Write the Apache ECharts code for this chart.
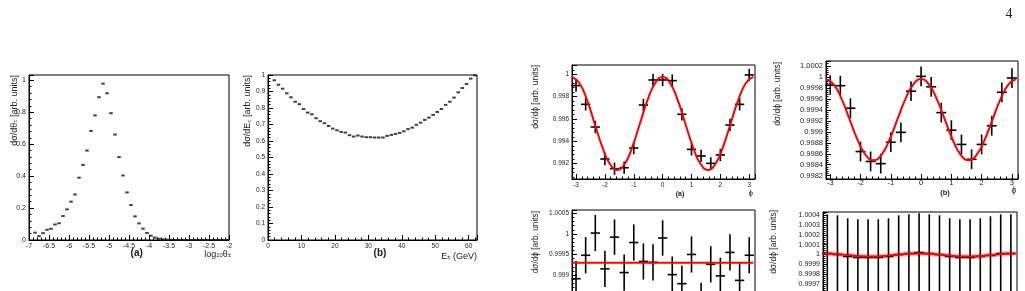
<!DOCTYPE html>
<html>
<head>
<meta charset="utf-8">
<script src="https://cdn.jsdelivr.net/npm/echarts@6/dist/echarts.min.js"></script>
<style>
  html, body { margin: 0; padding: 0; background: #fff; }
  #chart { width: 1025px; height: 291px; }
</style>
</head>
<body>
<div id="chart"></div>
<script>
// --- left pair: angular and energy spectra ---
const thetaCenters = [-6.85, -6.75, -6.65, -6.55, -6.45, -6.35, -6.25, -6.15, -6.05, -5.95,
    -5.85, -5.75, -5.65, -5.55, -5.45, -5.35, -5.25, -5.15, -5.05, -4.95,
    -4.85, -4.75, -4.65, -4.55, -4.45, -4.35, -4.25, -4.15, -4.05, -3.95,
    -3.85, -3.75, -3.65, -3.55, -3.45, -3.35, -3.25, -3.15, -3.05, -2.95,
    -2.85, -2.75, -2.65, -2.55, -2.45, -2.35, -2.25, -2.15, -2.05];
const thetaValues = [0.046, 0.024, 0.043, 0.064, 0.070, 0.097, 0.105, 0.150, 0.192, 0.240,
    0.285, 0.390, 0.470, 0.560, 0.683, 0.780, 0.894, 0.979, 0.919, 0.794,
    0.660, 0.519, 0.404, 0.298, 0.219, 0.148, 0.104, 0.071, 0.044, 0.027,
    0.015, 0.008, 0.004, 0.002, 0.001, 0, 0, 0, 0, 0,
    0, 0, 0, 0, 0, 0, 0, 0, 0];

const energyCenters = [1.875, 3.125, 4.375, 5.625, 6.875, 8.125, 9.375, 10.625, 11.875, 13.125,
    14.375, 15.625, 16.875, 18.125, 19.375, 20.625, 21.875, 23.125, 24.375, 25.625,
    26.875, 28.125, 29.375, 30.625, 31.875, 33.125, 34.375, 35.625, 36.875, 38.125,
    39.375, 40.625, 41.875, 43.125, 44.375, 45.625, 46.875, 48.125, 49.375, 50.625,
    51.875, 53.125, 54.375, 55.625, 56.875, 58.125, 59.375, 60.625, 61.875];
const energyValues = [0.968, 0.941, 0.917, 0.889, 0.865, 0.838, 0.823, 0.794, 0.772, 0.762,
    0.738, 0.720, 0.708, 0.691, 0.675, 0.665, 0.655, 0.651, 0.635, 0.627,
    0.633, 0.627, 0.623, 0.623, 0.621, 0.621, 0.621, 0.631, 0.637, 0.643,
    0.649, 0.659, 0.672, 0.681, 0.698, 0.711, 0.728, 0.742, 0.758, 0.776,
    0.794, 0.819, 0.838, 0.863, 0.895, 0.921, 0.946, 0.978, 0.998];

// --- right block: azimuthal distributions ---
const phiCenters = [-3, -2.667, -2.333, -2, -1.667, -1.333, -1, -0.667, -0.333, 0,
    0.333, 0.667, 1, 1.333, 1.667, 2, 2.333, 2.667, 3];

const phiA = [0.99899, 0.99731, 0.99528, 0.99242, 0.99155, 0.99164, 0.99340, 0.99725, 0.99949, 0.99949,
    0.99943, 0.99642, 0.99328, 0.99269, 0.99203, 0.99278, 0.99546, 0.99731, 0.99994];
const phiAErr = [0.00055, 0.00055, 0.00055, 0.00055, 0.00055, 0.00055, 0.00055, 0.00055, 0.00055, 0.00055,
    0.00055, 0.00055, 0.00055, 0.00055, 0.00055, 0.00055, 0.00055, 0.00055, 0.00055];

const phiB = [0.99985, 0.99984, 0.99943, 0.99864, 0.99846, 0.99842, 0.99881, 0.99899, 0.99974, 1.00001,
    0.99982, 0.99935, 0.99903, 0.99877, 0.99850, 0.99877, 0.99911, 0.99972, 0.99998];
const phiBErr = [0.00018, 0.00018, 0.00018, 0.00018, 0.00018, 0.00018, 0.00018, 0.00018, 0.00018, 0.00018,
    0.00018, 0.00018, 0.00018, 0.00018, 0.00018, 0.00018, 0.00018, 0.00018, 0.00018];

const phiC = [0.99891, 0.99948, 1.00002, 0.99915, 0.99992, 0.99906, 0.99979, 0.99933, 0.99931, 0.99990,
    0.99901, 0.99879, 0.99950, 0.99837, 0.99926, 0.99898, 0.99955, 0.99887, 0.99948];
const phiCErr = [0.00043, 0.00044, 0.00044, 0.00044, 0.00043, 0.00044, 0.00044, 0.00044, 0.00044, 0.00043,
    0.00044, 0.00044, 0.00044, 0.00044, 0.00044, 0.00044, 0.00044, 0.00044, 0.00044];

const phiD = [1.00001, 1.00000, 0.99998, 0.99997, 0.99997, 0.99997, 0.99998, 1.00000, 1.00001, 1.00002,
    1.00001, 1.00000, 0.99998, 0.99997, 0.99997, 0.99998, 0.99999, 1.00001, 1.00001];
const phiDErr = [0.00040, 0.00040, 0.00039, 0.00039, 0.00039, 0.00039, 0.00039, 0.00040, 0.00040, 0.00040,
    0.00040, 0.00040, 0.00039, 0.00039, 0.00039, 0.00039, 0.00040, 0.00040, 0.00040];

// fitted curves
const fitX = [-3.1416, -2.8798, -2.618, -2.3562, -2.0944, -1.8326, -1.5708, -1.309, -1.0472, -0.7854,
    -0.5236, -0.2618, 0, 0.2618, 0.5236, 0.7854, 1.0472, 1.309, 1.5708, 1.8326,
    2.0944, 2.3562, 2.618, 2.8798, 3.1416];
const fitA = [0.99976, 0.99920, 0.99768, 0.99560, 0.99352, 0.99200, 0.99144, 0.99200, 0.99352, 0.99560,
    0.99768, 0.99920, 0.99976, 0.99920, 0.99768, 0.99560, 0.99352, 0.99200, 0.99144, 0.99200,
    0.99352, 0.99560, 0.99768, 0.99920, 0.99976];
const fitB = [0.99996, 0.99986, 0.99959, 0.99922, 0.99885, 0.99858, 0.99848, 0.99858, 0.99885, 0.99922,
    0.99959, 0.99986, 0.99996, 0.99986, 0.99959, 0.99922, 0.99885, 0.99858, 0.99848, 0.99858,
    0.99885, 0.99922, 0.99959, 0.99986, 0.99996];
const fitCX = [-3.1416, 3.1416];
const fitC = [0.9993, 0.9993];
const fitD = [1.00001, 1.000008, 1.000003, 0.999995, 0.999988, 0.999982, 0.99998, 0.999982, 0.999988, 0.999995,
    1.000003, 1.000008, 1.00001, 1.000008, 1.000003, 0.999995, 0.999988, 0.999982, 0.99998, 0.999982,
    0.999988, 0.999995, 1.000003, 1.000008, 1.00001];

const FONT = 'Liberation Sans';

// label only the ticks that sit on a multiple of step
function tickFmt(step, digits) {
    return function (v) {
        const k = v / step;
        if (Math.abs(k - Math.round(k)) > 1e-6) return '';
        return String(parseFloat(v.toFixed(digits)));
    };
}

function rootAxis(gridIndex, size, extra, margin) {
    return Object.assign({
        type: 'value',
        gridIndex: gridIndex,
        axisLine: { show: true, onZero: false, lineStyle: { color: '#000', width: 1 } },
        axisTick: { show: true, inside: true, length: 5, lineStyle: { color: '#000', width: 1 } },
        minorTick: { show: true, splitNumber: 5, length: 2.5, lineStyle: { color: '#000', width: 1 } },
        splitLine: { show: false },
        axisLabel: { fontFamily: FONT, fontSize: size, color: '#222', margin: margin === undefined ? 3 : margin }
    }, extra);
}

function withFmt(axis, step, digits) {
    axis.axisLabel.formatter = tickFmt(step, digits);
    return axis;
}

function crossItem(params, api) {
    const x = api.value(0), y = api.value(1), ex = api.value(2), ey = api.value(3);
    const l = api.coord([x - ex, y]), r = api.coord([x + ex, y]);
    const t = api.coord([x, y + ey]), b = api.coord([x, y - ey]);
    const style = { stroke: '#000', lineWidth: 1.6 };
    return {
        type: 'group',
        children: [
            { type: 'line', shape: { x1: l[0], y1: l[1], x2: r[0], y2: r[1] }, style: style },
            { type: 'line', shape: { x1: t[0], y1: t[1], x2: b[0], y2: b[1] }, style: style }
        ]
    };
}

function crosses(idx, vals, errs, half) {
    return {
        type: 'custom', xAxisIndex: idx, yAxisIndex: idx,
        renderItem: crossItem,
        encode: { x: 0, y: 1 },
        data: phiCenters.map((x, i) => [x, vals[i], half, errs[i]]),
        z: 2
    };
}

function fitLine(idx, xs, ys, width) {
    return {
        type: 'line', xAxisIndex: idx, yAxisIndex: idx,
        data: xs.map((x, i) => [x, ys[i]]),
        smooth: true, showSymbol: false, symbol: 'none',
        lineStyle: { color: '#ff0000', width: width || 2 },
        z: 3
    };
}

function richStyles(size) {
    return {
        m: { fontFamily: FONT, fontSize: size, lineHeight: size * 1.5, verticalAlign: 'bottom', fill: '#222' },
        s: { fontFamily: FONT, fontSize: size * 0.65, lineHeight: size * 0.75, verticalAlign: 'bottom', fill: '#222' }
    };
}

function vtitle(x, yTop, text, size) {
    return {
        type: 'text', x: x, y: yTop, rotation: Math.PI / 2,
        style: {
            text: text, fill: '#222', align: 'right', verticalAlign: 'middle',
            font: size + 'px "' + FONT + '"',
            rich: richStyles(size)
        }
    };
}

function htext(x, y, text, size, align, bold) {
    return {
        type: 'text', x: x, y: y,
        style: {
            text: text, fill: '#222', align: align || 'center', verticalAlign: 'middle',
            font: (bold ? 'bold ' : '') + size + 'px "' + FONT + '"',
            rich: richStyles(size)
        }
    };
}

const frame = { show: true, borderColor: '#000', borderWidth: 1, backgroundColor: 'transparent', outerBoundsMode: 'none', containLabel: false };

const chart = echarts.init(document.getElementById('chart'), null, { renderer: 'canvas' });

chart.setOption({
    animation: false,
    backgroundColor: '#fff',
    grid: [
        Object.assign({ left: 29, top: 75, width: 200, height: 165 }, frame),
        Object.assign({ left: 268, top: 75, width: 209, height: 165 }, frame),
        Object.assign({ left: 572, top: 65, width: 183, height: 114 }, frame),
        Object.assign({ left: 826, top: 61, width: 192, height: 118 }, frame),
        Object.assign({ left: 572, top: 210, width: 183, height: 114 }, frame),
        Object.assign({ left: 823, top: 212, width: 194, height: 114 }, frame)
    ],
    xAxis: [
        withFmt(rootAxis(0, 7, { min: -7, max: -2, interval: 0.5 }), 0.5, 2),
        withFmt(rootAxis(1, 6.5, { min: 0, max: 62.5, interval: 10 }), 10, 0),
        withFmt(rootAxis(2, 6.5, { min: -3.14, max: 3.2, splitNumber: 6 }), 1, 0),
        withFmt(rootAxis(3, 7.5, { min: -3.14, max: 3.2, splitNumber: 6 }, 0), 1, 0),
        withFmt(rootAxis(4, 6.5, { min: -3.14, max: 3.2, splitNumber: 6 }), 1, 0),
        withFmt(rootAxis(5, 7, { min: -3.14, max: 3.2, splitNumber: 6 }), 1, 0)
    ],
    yAxis: [
        withFmt(rootAxis(0, 7, { min: 0, max: 1.033, interval: 0.2 }), 0.2, 2),
        withFmt(rootAxis(1, 6.5, { min: 0, max: 1, interval: 0.1 }), 0.1, 2),
        withFmt(rootAxis(2, 6.5, { min: 0.99063, max: 1.00083, splitNumber: 5 }), 0.002, 4),
        withFmt(rootAxis(3, 7.5, { min: 0.99814, max: 1.00029, splitNumber: 10 }), 0.0002, 5),
        withFmt(rootAxis(4, 6.5, { min: 0.99781, max: 1.00058, splitNumber: 5 }), 0.0005, 5),
        withFmt(rootAxis(5, 7, { min: 0.99927, max: 1.000434, splitNumber: 12 }), 0.0001, 5)
    ],
    series: [
        {
            type: 'scatter', xAxisIndex: 0, yAxisIndex: 0,
            data: thetaCenters.map((x, i) => [x, thetaValues[i]]),
            symbol: 'rect', symbolSize: [3.5, 2], itemStyle: { color: '#111' }
        },
        {
            type: 'scatter', xAxisIndex: 1, yAxisIndex: 1,
            data: energyCenters.map((x, i) => [x, energyValues[i]]),
            symbol: 'rect', symbolSize: [3.5, 2], itemStyle: { color: '#111' }
        },
        crosses(2, phiA, phiAErr, 0.16),
        fitLine(2, fitX, fitA),
        crosses(3, phiB, phiBErr, 0.165),
        fitLine(3, fitX, fitB),
        crosses(4, phiC, phiCErr, 0.16),
        fitLine(4, fitCX, fitC),
        {
            type: 'line', xAxisIndex: 5, yAxisIndex: 5,
            data: fitX.map((x, i) => [x, fitD[i]]),
            smooth: true, showSymbol: false, symbol: 'none',
            lineStyle: { color: 'rgba(255,0,0,0.25)', width: 5 }, z: 1
        },
        crosses(5, phiD, phiDErr, 0.16),
        fitLine(5, fitX, fitD, 2)
    ],
    graphic: [
        { type: 'text', x: 1009, y: 14, style: { text: '4', font: '14px "Liberation Serif"', fill: '#222', align: 'center', verticalAlign: 'middle' } },
        vtitle(12, 75, '{m|dσ/dθ}{s|±}{m| [arb. units]}', 9),
        vtitle(245.5, 75, '{m|dσ/dE}{s|±}{m| [arb. units]}', 9),
        vtitle(536, 65, 'dσ/dϕ [arb. units]', 8.5),
        vtitle(778, 62, 'dσ/dϕ [arb. units]', 8.5),
        vtitle(535.3, 211, 'dσ/dϕ [arb. units]', 8.3),
        vtitle(773.5, 210, 'dσ/dϕ [arb. units]', 8.5),
        htext(231, 252, '{m|log}{s|10}{m|θ}{s|±}', 9, 'right'),
        htext(477, 254, '{m|E}{s|±}{m| (GeV)}', 9, 'right'),
        htext(136.7, 253.3, '(a)', 10, 'center', true),
        htext(380, 253.3, '(b)', 10, 'center', true),
        htext(680, 194.3, '(a)', 7, 'center', true),
        htext(945, 192.7, '(b)', 7.5, 'center', true),
        htext(750.7, 192.3, 'ϕ', 8, 'center'),
        htext(1014, 190.5, 'ϕ', 8.5, 'center')
    ]
});
</script>
</body>
</html>
